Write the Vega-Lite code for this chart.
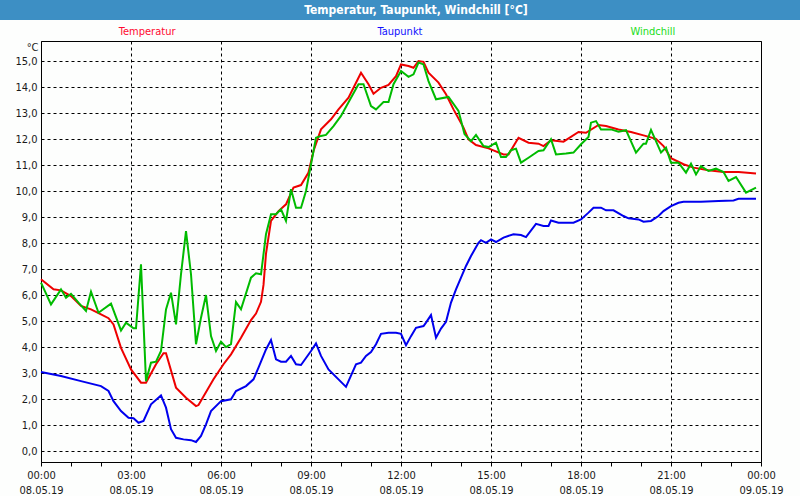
{
  "$schema": "https://vega.github.io/schema/vega-lite/v6.json",
  "background": "#fdfefd",
  "padding": 0,
  "spacing": 0,
  "config": {
    "font": "DejaVu Sans Condensed, Liberation Sans, sans-serif"
  },
  "resolve": {"scale": {"color": "independent", "x": "independent", "y": "independent"}},
  "vconcat": [
    {
      "width": 800,
      "height": 20,
      "view": {"fill": "#3d8fc4", "stroke": null},
      "data": {"values": [{"title": "Temperatur, Taupunkt, Windchill [°C]"}]},
      "mark": {"type": "text", "color": "white", "fontWeight": "bold", "fontSize": 12, "dx": 16},
      "encoding": {"text": {"field": "title"}}
    },
    {
      "width": 800,
      "height": 20,
      "view": {"stroke": null, "fill": null},
      "data": {"values": [{"s": "Temperatur"}, {"s": "Taupunkt"}, {"s": "Windchill"}]},
      "mark": {"type": "text", "fontSize": 11, "dy": 2},
      "encoding": {
        "x": {"field": "s", "type": "nominal", "sort": ["Temperatur", "Taupunkt", "Windchill"], "scale": {"type": "point", "padding": 0.582}, "axis": null},
        "text": {"field": "s"},
        "color": {"field": "s", "type": "nominal", "legend": null,
          "scale": {"domain": ["Temperatur", "Taupunkt", "Windchill"], "range": ["#ff0a30", "#1010ff", "#20dd20"]}}
      }
    },
    {
      "spacing": 0,
      "hconcat": [
        {
          "width": 1,
          "height": 1,
          "view": {"stroke": null, "fill": null},
          "data": {"values": []},
          "mark": "point"
        },
        {
          "width": 720,
          "height": 421,
          "view": {"stroke": "black", "strokeWidth": 1, "fill": null},
          "data": {"values": [
            {"t":"2019-05-08T00:00","s":"Temperatur","v":6.62},
            {"t":"2019-05-08T00:25","s":"Temperatur","v":6.23},
            {"t":"2019-05-08T00:40","s":"Temperatur","v":6.19},
            {"t":"2019-05-08T01:00","s":"Temperatur","v":5.97},
            {"t":"2019-05-08T01:20","s":"Temperatur","v":5.59},
            {"t":"2019-05-08T01:40","s":"Temperatur","v":5.46},
            {"t":"2019-05-08T02:00","s":"Temperatur","v":5.27},
            {"t":"2019-05-08T02:15","s":"Temperatur","v":5.12},
            {"t":"2019-05-08T02:25","s":"Temperatur","v":4.88},
            {"t":"2019-05-08T02:40","s":"Temperatur","v":3.98},
            {"t":"2019-05-08T03:00","s":"Temperatur","v":3.15},
            {"t":"2019-05-08T03:20","s":"Temperatur","v":2.64},
            {"t":"2019-05-08T03:30","s":"Temperatur","v":2.64},
            {"t":"2019-05-08T03:50","s":"Temperatur","v":3.35},
            {"t":"2019-05-08T04:05","s":"Temperatur","v":3.77},
            {"t":"2019-05-08T04:10","s":"Temperatur","v":3.77},
            {"t":"2019-05-08T04:30","s":"Temperatur","v":2.45},
            {"t":"2019-05-08T04:50","s":"Temperatur","v":2.06},
            {"t":"2019-05-08T05:10","s":"Temperatur","v":1.74},
            {"t":"2019-05-08T05:15","s":"Temperatur","v":1.78},
            {"t":"2019-05-08T05:45","s":"Temperatur","v":2.77},
            {"t":"2019-05-08T06:05","s":"Temperatur","v":3.35},
            {"t":"2019-05-08T06:20","s":"Temperatur","v":3.73},
            {"t":"2019-05-08T06:40","s":"Temperatur","v":4.37},
            {"t":"2019-05-08T07:00","s":"Temperatur","v":5.05},
            {"t":"2019-05-08T07:10","s":"Temperatur","v":5.3},
            {"t":"2019-05-08T07:20","s":"Temperatur","v":5.75},
            {"t":"2019-05-08T07:25","s":"Temperatur","v":6.4},
            {"t":"2019-05-08T07:30","s":"Temperatur","v":7.6},
            {"t":"2019-05-08T07:40","s":"Temperatur","v":8.86},
            {"t":"2019-05-08T07:55","s":"Temperatur","v":9.24},
            {"t":"2019-05-08T08:10","s":"Temperatur","v":9.5},
            {"t":"2019-05-08T08:25","s":"Temperatur","v":10.14},
            {"t":"2019-05-08T08:40","s":"Temperatur","v":10.24},
            {"t":"2019-05-08T08:55","s":"Temperatur","v":10.72},
            {"t":"2019-05-08T09:05","s":"Temperatur","v":11.55},
            {"t":"2019-05-08T09:20","s":"Temperatur","v":12.38},
            {"t":"2019-05-08T09:40","s":"Temperatur","v":12.77},
            {"t":"2019-05-08T09:55","s":"Temperatur","v":13.15},
            {"t":"2019-05-08T10:15","s":"Temperatur","v":13.6},
            {"t":"2019-05-08T10:25","s":"Temperatur","v":13.98},
            {"t":"2019-05-08T10:40","s":"Temperatur","v":14.56},
            {"t":"2019-05-08T10:55","s":"Temperatur","v":14.12},
            {"t":"2019-05-08T11:05","s":"Temperatur","v":13.75},
            {"t":"2019-05-08T11:20","s":"Temperatur","v":13.98},
            {"t":"2019-05-08T11:35","s":"Temperatur","v":14.09},
            {"t":"2019-05-08T11:50","s":"Temperatur","v":14.43},
            {"t":"2019-05-08T12:00","s":"Temperatur","v":14.88},
            {"t":"2019-05-08T12:15","s":"Temperatur","v":14.82},
            {"t":"2019-05-08T12:25","s":"Temperatur","v":14.75},
            {"t":"2019-05-08T12:35","s":"Temperatur","v":15.01},
            {"t":"2019-05-08T12:45","s":"Temperatur","v":14.98},
            {"t":"2019-05-08T12:55","s":"Temperatur","v":14.56},
            {"t":"2019-05-08T13:15","s":"Temperatur","v":14.18},
            {"t":"2019-05-08T13:30","s":"Temperatur","v":13.73},
            {"t":"2019-05-08T13:45","s":"Temperatur","v":13.15},
            {"t":"2019-05-08T14:05","s":"Temperatur","v":12.45},
            {"t":"2019-05-08T14:15","s":"Temperatur","v":12.0},
            {"t":"2019-05-08T14:30","s":"Temperatur","v":11.78},
            {"t":"2019-05-08T14:55","s":"Temperatur","v":11.65},
            {"t":"2019-05-08T15:25","s":"Temperatur","v":11.42},
            {"t":"2019-05-08T15:35","s":"Temperatur","v":11.42},
            {"t":"2019-05-08T15:55","s":"Temperatur","v":12.06},
            {"t":"2019-05-08T16:15","s":"Temperatur","v":11.87},
            {"t":"2019-05-08T16:35","s":"Temperatur","v":11.83},
            {"t":"2019-05-08T16:45","s":"Temperatur","v":11.74},
            {"t":"2019-05-08T17:00","s":"Temperatur","v":11.96},
            {"t":"2019-05-08T17:25","s":"Temperatur","v":11.91},
            {"t":"2019-05-08T17:55","s":"Temperatur","v":12.28},
            {"t":"2019-05-08T18:10","s":"Temperatur","v":12.25},
            {"t":"2019-05-08T18:35","s":"Temperatur","v":12.55},
            {"t":"2019-05-08T18:50","s":"Temperatur","v":12.51},
            {"t":"2019-05-08T19:15","s":"Temperatur","v":12.38},
            {"t":"2019-05-08T19:40","s":"Temperatur","v":12.28},
            {"t":"2019-05-08T20:05","s":"Temperatur","v":12.15},
            {"t":"2019-05-08T20:30","s":"Temperatur","v":12.02},
            {"t":"2019-05-08T20:45","s":"Temperatur","v":11.74},
            {"t":"2019-05-08T21:00","s":"Temperatur","v":11.27},
            {"t":"2019-05-08T21:25","s":"Temperatur","v":11.04},
            {"t":"2019-05-08T21:45","s":"Temperatur","v":10.91},
            {"t":"2019-05-08T22:15","s":"Temperatur","v":10.81},
            {"t":"2019-05-08T22:45","s":"Temperatur","v":10.74},
            {"t":"2019-05-08T23:15","s":"Temperatur","v":10.74},
            {"t":"2019-05-08T23:50","s":"Temperatur","v":10.68},
            {"t":"2019-05-08T00:00","s":"Taupunkt","v":3.05},
            {"t":"2019-05-08T00:40","s":"Taupunkt","v":2.9},
            {"t":"2019-05-08T01:20","s":"Taupunkt","v":2.7},
            {"t":"2019-05-08T02:00","s":"Taupunkt","v":2.51},
            {"t":"2019-05-08T02:15","s":"Taupunkt","v":2.32},
            {"t":"2019-05-08T02:25","s":"Taupunkt","v":1.93},
            {"t":"2019-05-08T02:40","s":"Taupunkt","v":1.55},
            {"t":"2019-05-08T02:55","s":"Taupunkt","v":1.29},
            {"t":"2019-05-08T03:05","s":"Taupunkt","v":1.27},
            {"t":"2019-05-08T03:15","s":"Taupunkt","v":1.1},
            {"t":"2019-05-08T03:25","s":"Taupunkt","v":1.17},
            {"t":"2019-05-08T03:40","s":"Taupunkt","v":1.81},
            {"t":"2019-05-08T04:00","s":"Taupunkt","v":2.15},
            {"t":"2019-05-08T04:10","s":"Taupunkt","v":1.68},
            {"t":"2019-05-08T04:20","s":"Taupunkt","v":0.85},
            {"t":"2019-05-08T04:30","s":"Taupunkt","v":0.52},
            {"t":"2019-05-08T04:45","s":"Taupunkt","v":0.46},
            {"t":"2019-05-08T05:00","s":"Taupunkt","v":0.43},
            {"t":"2019-05-08T05:10","s":"Taupunkt","v":0.36},
            {"t":"2019-05-08T05:20","s":"Taupunkt","v":0.59},
            {"t":"2019-05-08T05:30","s":"Taupunkt","v":1.04},
            {"t":"2019-05-08T05:40","s":"Taupunkt","v":1.55},
            {"t":"2019-05-08T06:00","s":"Taupunkt","v":1.93},
            {"t":"2019-05-08T06:20","s":"Taupunkt","v":2.0},
            {"t":"2019-05-08T06:30","s":"Taupunkt","v":2.32},
            {"t":"2019-05-08T06:50","s":"Taupunkt","v":2.51},
            {"t":"2019-05-08T07:05","s":"Taupunkt","v":2.77},
            {"t":"2019-05-08T07:15","s":"Taupunkt","v":3.22},
            {"t":"2019-05-08T07:30","s":"Taupunkt","v":3.92},
            {"t":"2019-05-08T07:40","s":"Taupunkt","v":4.28},
            {"t":"2019-05-08T07:50","s":"Taupunkt","v":3.54},
            {"t":"2019-05-08T08:00","s":"Taupunkt","v":3.45},
            {"t":"2019-05-08T08:10","s":"Taupunkt","v":3.45},
            {"t":"2019-05-08T08:20","s":"Taupunkt","v":3.67},
            {"t":"2019-05-08T08:30","s":"Taupunkt","v":3.35},
            {"t":"2019-05-08T08:40","s":"Taupunkt","v":3.32},
            {"t":"2019-05-08T09:00","s":"Taupunkt","v":3.86},
            {"t":"2019-05-08T09:10","s":"Taupunkt","v":4.15},
            {"t":"2019-05-08T09:20","s":"Taupunkt","v":3.67},
            {"t":"2019-05-08T09:35","s":"Taupunkt","v":3.15},
            {"t":"2019-05-08T10:10","s":"Taupunkt","v":2.48},
            {"t":"2019-05-08T10:30","s":"Taupunkt","v":3.35},
            {"t":"2019-05-08T10:40","s":"Taupunkt","v":3.41},
            {"t":"2019-05-08T10:50","s":"Taupunkt","v":3.67},
            {"t":"2019-05-08T11:00","s":"Taupunkt","v":3.82},
            {"t":"2019-05-08T11:10","s":"Taupunkt","v":4.12},
            {"t":"2019-05-08T11:20","s":"Taupunkt","v":4.52},
            {"t":"2019-05-08T11:35","s":"Taupunkt","v":4.56},
            {"t":"2019-05-08T11:50","s":"Taupunkt","v":4.56},
            {"t":"2019-05-08T12:00","s":"Taupunkt","v":4.52},
            {"t":"2019-05-08T12:10","s":"Taupunkt","v":4.08},
            {"t":"2019-05-08T12:20","s":"Taupunkt","v":4.43},
            {"t":"2019-05-08T12:30","s":"Taupunkt","v":4.75},
            {"t":"2019-05-08T12:45","s":"Taupunkt","v":4.82},
            {"t":"2019-05-08T12:50","s":"Taupunkt","v":4.95},
            {"t":"2019-05-08T13:00","s":"Taupunkt","v":5.24},
            {"t":"2019-05-08T13:10","s":"Taupunkt","v":4.37},
            {"t":"2019-05-08T13:20","s":"Taupunkt","v":4.72},
            {"t":"2019-05-08T13:30","s":"Taupunkt","v":4.98},
            {"t":"2019-05-08T13:40","s":"Taupunkt","v":5.72},
            {"t":"2019-05-08T13:50","s":"Taupunkt","v":6.23},
            {"t":"2019-05-08T14:10","s":"Taupunkt","v":7.13},
            {"t":"2019-05-08T14:20","s":"Taupunkt","v":7.51},
            {"t":"2019-05-08T14:35","s":"Taupunkt","v":8.02},
            {"t":"2019-05-08T14:40","s":"Taupunkt","v":8.12},
            {"t":"2019-05-08T14:50","s":"Taupunkt","v":8.02},
            {"t":"2019-05-08T15:00","s":"Taupunkt","v":8.15},
            {"t":"2019-05-08T15:10","s":"Taupunkt","v":8.05},
            {"t":"2019-05-08T15:25","s":"Taupunkt","v":8.22},
            {"t":"2019-05-08T15:45","s":"Taupunkt","v":8.35},
            {"t":"2019-05-08T16:00","s":"Taupunkt","v":8.32},
            {"t":"2019-05-08T16:10","s":"Taupunkt","v":8.24},
            {"t":"2019-05-08T16:30","s":"Taupunkt","v":8.75},
            {"t":"2019-05-08T16:45","s":"Taupunkt","v":8.67},
            {"t":"2019-05-08T16:55","s":"Taupunkt","v":8.67},
            {"t":"2019-05-08T17:00","s":"Taupunkt","v":8.88},
            {"t":"2019-05-08T17:15","s":"Taupunkt","v":8.79},
            {"t":"2019-05-08T17:45","s":"Taupunkt","v":8.79},
            {"t":"2019-05-08T18:00","s":"Taupunkt","v":8.92},
            {"t":"2019-05-08T18:15","s":"Taupunkt","v":9.18},
            {"t":"2019-05-08T18:25","s":"Taupunkt","v":9.37},
            {"t":"2019-05-08T18:40","s":"Taupunkt","v":9.37},
            {"t":"2019-05-08T18:50","s":"Taupunkt","v":9.27},
            {"t":"2019-05-08T19:05","s":"Taupunkt","v":9.27},
            {"t":"2019-05-08T19:25","s":"Taupunkt","v":9.05},
            {"t":"2019-05-08T19:35","s":"Taupunkt","v":8.96},
            {"t":"2019-05-08T19:55","s":"Taupunkt","v":8.92},
            {"t":"2019-05-08T20:05","s":"Taupunkt","v":8.83},
            {"t":"2019-05-08T20:20","s":"Taupunkt","v":8.86},
            {"t":"2019-05-08T20:35","s":"Taupunkt","v":9.05},
            {"t":"2019-05-08T20:45","s":"Taupunkt","v":9.24},
            {"t":"2019-05-08T21:00","s":"Taupunkt","v":9.43},
            {"t":"2019-05-08T21:15","s":"Taupunkt","v":9.56},
            {"t":"2019-05-08T21:25","s":"Taupunkt","v":9.6},
            {"t":"2019-05-08T22:00","s":"Taupunkt","v":9.6},
            {"t":"2019-05-08T22:35","s":"Taupunkt","v":9.63},
            {"t":"2019-05-08T23:05","s":"Taupunkt","v":9.65},
            {"t":"2019-05-08T23:15","s":"Taupunkt","v":9.71},
            {"t":"2019-05-08T23:50","s":"Taupunkt","v":9.71},
            {"t":"2019-05-08T00:00","s":"Windchill","v":6.49},
            {"t":"2019-05-08T00:20","s":"Windchill","v":5.65},
            {"t":"2019-05-08T00:40","s":"Windchill","v":6.23},
            {"t":"2019-05-08T00:50","s":"Windchill","v":5.91},
            {"t":"2019-05-08T01:00","s":"Windchill","v":6.06},
            {"t":"2019-05-08T01:15","s":"Windchill","v":5.72},
            {"t":"2019-05-08T01:30","s":"Windchill","v":5.4},
            {"t":"2019-05-08T01:40","s":"Windchill","v":6.14},
            {"t":"2019-05-08T01:55","s":"Windchill","v":5.33},
            {"t":"2019-05-08T02:20","s":"Windchill","v":5.68},
            {"t":"2019-05-08T02:40","s":"Windchill","v":4.65},
            {"t":"2019-05-08T02:50","s":"Windchill","v":4.95},
            {"t":"2019-05-08T03:05","s":"Windchill","v":4.73},
            {"t":"2019-05-08T03:10","s":"Windchill","v":4.73},
            {"t":"2019-05-08T03:20","s":"Windchill","v":7.19},
            {"t":"2019-05-08T03:30","s":"Windchill","v":2.7},
            {"t":"2019-05-08T03:40","s":"Windchill","v":3.41},
            {"t":"2019-05-08T03:50","s":"Windchill","v":3.45},
            {"t":"2019-05-08T04:00","s":"Windchill","v":3.86},
            {"t":"2019-05-08T04:10","s":"Windchill","v":5.46},
            {"t":"2019-05-08T04:20","s":"Windchill","v":6.1},
            {"t":"2019-05-08T04:30","s":"Windchill","v":4.88},
            {"t":"2019-05-08T04:40","s":"Windchill","v":6.81},
            {"t":"2019-05-08T04:50","s":"Windchill","v":8.47},
            {"t":"2019-05-08T05:00","s":"Windchill","v":6.81},
            {"t":"2019-05-08T05:10","s":"Windchill","v":4.12},
            {"t":"2019-05-08T05:20","s":"Windchill","v":5.14},
            {"t":"2019-05-08T05:30","s":"Windchill","v":6.01},
            {"t":"2019-05-08T05:40","s":"Windchill","v":4.43},
            {"t":"2019-05-08T05:50","s":"Windchill","v":3.86},
            {"t":"2019-05-08T06:00","s":"Windchill","v":4.22},
            {"t":"2019-05-08T06:10","s":"Windchill","v":4.01},
            {"t":"2019-05-08T06:20","s":"Windchill","v":4.12},
            {"t":"2019-05-08T06:30","s":"Windchill","v":5.74},
            {"t":"2019-05-08T06:40","s":"Windchill","v":5.46},
            {"t":"2019-05-08T07:00","s":"Windchill","v":6.68},
            {"t":"2019-05-08T07:10","s":"Windchill","v":6.85},
            {"t":"2019-05-08T07:20","s":"Windchill","v":6.81},
            {"t":"2019-05-08T07:30","s":"Windchill","v":8.35},
            {"t":"2019-05-08T07:40","s":"Windchill","v":9.12},
            {"t":"2019-05-08T07:50","s":"Windchill","v":9.12},
            {"t":"2019-05-08T08:00","s":"Windchill","v":9.31},
            {"t":"2019-05-08T08:10","s":"Windchill","v":8.86},
            {"t":"2019-05-08T08:20","s":"Windchill","v":10.08},
            {"t":"2019-05-08T08:30","s":"Windchill","v":9.37},
            {"t":"2019-05-08T08:40","s":"Windchill","v":9.37},
            {"t":"2019-05-08T08:50","s":"Windchill","v":10.01},
            {"t":"2019-05-08T09:10","s":"Windchill","v":12.06},
            {"t":"2019-05-08T09:20","s":"Windchill","v":12.13},
            {"t":"2019-05-08T09:30","s":"Windchill","v":12.17},
            {"t":"2019-05-08T09:45","s":"Windchill","v":12.51},
            {"t":"2019-05-08T10:00","s":"Windchill","v":12.9},
            {"t":"2019-05-08T10:20","s":"Windchill","v":13.6},
            {"t":"2019-05-08T10:35","s":"Windchill","v":14.12},
            {"t":"2019-05-08T10:45","s":"Windchill","v":14.12},
            {"t":"2019-05-08T11:00","s":"Windchill","v":13.28},
            {"t":"2019-05-08T11:10","s":"Windchill","v":13.15},
            {"t":"2019-05-08T11:25","s":"Windchill","v":13.43},
            {"t":"2019-05-08T11:35","s":"Windchill","v":13.43},
            {"t":"2019-05-08T11:45","s":"Windchill","v":14.12},
            {"t":"2019-05-08T12:00","s":"Windchill","v":14.63},
            {"t":"2019-05-08T12:15","s":"Windchill","v":14.4},
            {"t":"2019-05-08T12:25","s":"Windchill","v":14.5},
            {"t":"2019-05-08T12:35","s":"Windchill","v":14.95},
            {"t":"2019-05-08T12:45","s":"Windchill","v":14.88},
            {"t":"2019-05-08T12:55","s":"Windchill","v":14.24},
            {"t":"2019-05-08T13:10","s":"Windchill","v":13.54},
            {"t":"2019-05-08T13:35","s":"Windchill","v":13.63},
            {"t":"2019-05-08T13:55","s":"Windchill","v":13.09},
            {"t":"2019-05-08T14:07","s":"Windchill","v":12.2},
            {"t":"2019-05-08T14:20","s":"Windchill","v":11.93},
            {"t":"2019-05-08T14:30","s":"Windchill","v":12.17},
            {"t":"2019-05-08T14:45","s":"Windchill","v":11.74},
            {"t":"2019-05-08T14:55","s":"Windchill","v":11.7},
            {"t":"2019-05-08T15:10","s":"Windchill","v":11.87},
            {"t":"2019-05-08T15:20","s":"Windchill","v":11.32},
            {"t":"2019-05-08T15:30","s":"Windchill","v":11.32},
            {"t":"2019-05-08T15:40","s":"Windchill","v":11.58},
            {"t":"2019-05-08T15:50","s":"Windchill","v":11.64},
            {"t":"2019-05-08T16:00","s":"Windchill","v":11.1},
            {"t":"2019-05-08T16:15","s":"Windchill","v":11.29},
            {"t":"2019-05-08T16:35","s":"Windchill","v":11.55},
            {"t":"2019-05-08T16:45","s":"Windchill","v":11.58},
            {"t":"2019-05-08T17:00","s":"Windchill","v":12.0},
            {"t":"2019-05-08T17:10","s":"Windchill","v":11.42},
            {"t":"2019-05-08T17:30","s":"Windchill","v":11.45},
            {"t":"2019-05-08T17:45","s":"Windchill","v":11.49},
            {"t":"2019-05-08T18:00","s":"Windchill","v":11.81},
            {"t":"2019-05-08T18:15","s":"Windchill","v":12.09},
            {"t":"2019-05-08T18:20","s":"Windchill","v":12.64},
            {"t":"2019-05-08T18:30","s":"Windchill","v":12.7},
            {"t":"2019-05-08T18:40","s":"Windchill","v":12.38},
            {"t":"2019-05-08T19:00","s":"Windchill","v":12.38},
            {"t":"2019-05-08T19:15","s":"Windchill","v":12.29},
            {"t":"2019-05-08T19:30","s":"Windchill","v":12.35},
            {"t":"2019-05-08T19:50","s":"Windchill","v":11.49},
            {"t":"2019-05-08T20:05","s":"Windchill","v":11.83},
            {"t":"2019-05-08T20:10","s":"Windchill","v":11.83},
            {"t":"2019-05-08T20:20","s":"Windchill","v":12.36},
            {"t":"2019-05-08T20:40","s":"Windchill","v":11.49},
            {"t":"2019-05-08T20:50","s":"Windchill","v":11.68},
            {"t":"2019-05-08T21:00","s":"Windchill","v":11.1},
            {"t":"2019-05-08T21:15","s":"Windchill","v":11.1},
            {"t":"2019-05-08T21:30","s":"Windchill","v":10.72},
            {"t":"2019-05-08T21:40","s":"Windchill","v":11.06},
            {"t":"2019-05-08T21:50","s":"Windchill","v":10.65},
            {"t":"2019-05-08T22:00","s":"Windchill","v":10.97},
            {"t":"2019-05-08T22:15","s":"Windchill","v":10.78},
            {"t":"2019-05-08T22:30","s":"Windchill","v":10.87},
            {"t":"2019-05-08T22:45","s":"Windchill","v":10.74},
            {"t":"2019-05-08T22:55","s":"Windchill","v":10.4},
            {"t":"2019-05-08T23:10","s":"Windchill","v":10.55},
            {"t":"2019-05-08T23:30","s":"Windchill","v":9.95},
            {"t":"2019-05-08T23:50","s":"Windchill","v":10.14}
          ]},
          "mark": {"type": "line", "strokeWidth": 2},
          "encoding": {
            "x": {
              "field": "t", "type": "temporal",
              "scale": {"domain": [{"year": 2019, "month": 5, "date": 8}, {"year": 2019, "month": 5, "date": 9}], "nice": false},
              "axis": {
                "title": null,
                "domain": false,
                "values": [
                  {"year": 2019, "month": 5, "date": 8, "hours": 0},
                  {"year": 2019, "month": 5, "date": 8, "hours": 1},
                  {"year": 2019, "month": 5, "date": 8, "hours": 2},
                  {"year": 2019, "month": 5, "date": 8, "hours": 3},
                  {"year": 2019, "month": 5, "date": 8, "hours": 4},
                  {"year": 2019, "month": 5, "date": 8, "hours": 5},
                  {"year": 2019, "month": 5, "date": 8, "hours": 6},
                  {"year": 2019, "month": 5, "date": 8, "hours": 7},
                  {"year": 2019, "month": 5, "date": 8, "hours": 8},
                  {"year": 2019, "month": 5, "date": 8, "hours": 9},
                  {"year": 2019, "month": 5, "date": 8, "hours": 10},
                  {"year": 2019, "month": 5, "date": 8, "hours": 11},
                  {"year": 2019, "month": 5, "date": 8, "hours": 12},
                  {"year": 2019, "month": 5, "date": 8, "hours": 13},
                  {"year": 2019, "month": 5, "date": 8, "hours": 14},
                  {"year": 2019, "month": 5, "date": 8, "hours": 15},
                  {"year": 2019, "month": 5, "date": 8, "hours": 16},
                  {"year": 2019, "month": 5, "date": 8, "hours": 17},
                  {"year": 2019, "month": 5, "date": 8, "hours": 18},
                  {"year": 2019, "month": 5, "date": 8, "hours": 19},
                  {"year": 2019, "month": 5, "date": 8, "hours": 20},
                  {"year": 2019, "month": 5, "date": 8, "hours": 21},
                  {"year": 2019, "month": 5, "date": 8, "hours": 22},
                  {"year": 2019, "month": 5, "date": 8, "hours": 23},
                  {"year": 2019, "month": 5, "date": 9, "hours": 0}
                ],
                "tickSize": 4, "tickColor": "black", "tickWidth": 1,
                "grid": true, "gridColor": "black", "gridDash": [3, 3], "gridWidth": 1,
                "gridOpacity": {"condition": {"test": "hours(datum.value) % 3 == 0", "value": 1}, "value": 0},
                "labelExpr": "hours(datum.value) % 3 == 0 ? [timeFormat(datum.value, '%H:%M'), timeFormat(datum.value, '%d.%m.%y')] : ''",
                "labelFlush": false, "labelOverlap": false, "labelBound": false,
                "labelFontSize": 11, "labelColor": "#1a1a1a", "labelPadding": 3, "labelLineHeight": 15
              }
            },
            "y": {
              "field": "v", "type": "quantitative",
              "scale": {"domain": [-0.41, 15.78], "nice": false, "zero": false},
              "axis": {
                "title": "°C", "titleAngle": 0, "titleX": -3, "titleY": 6, "titleAlign": "right", "titleBaseline": "middle",
                "titleFontWeight": "normal", "titleFontSize": 11, "titleColor": "#1a1a1a",
                "values": [0, 1, 2, 3, 4, 5, 6, 7, 8, 9, 10, 11, 12, 13, 14, 15],
                "domain": false, "ticks": false,
                "grid": true, "gridColor": "black", "gridDash": [3, 3], "gridWidth": 1,
                "labelExpr": "replace(format(datum.value, '.1f'), '.', ',')",
                "labelFontSize": 11, "labelColor": "#1a1a1a", "labelPadding": 4,
                "minExtent": 39, "maxExtent": 39
              }
            },
            "color": {
              "field": "s", "type": "nominal", "legend": null,
              "scale": {"domain": ["Temperatur", "Taupunkt", "Windchill"], "range": ["#ee0000", "#0000ee", "#00bb00"]}
            }
          }
        }
      ]
    }
  ]
}
